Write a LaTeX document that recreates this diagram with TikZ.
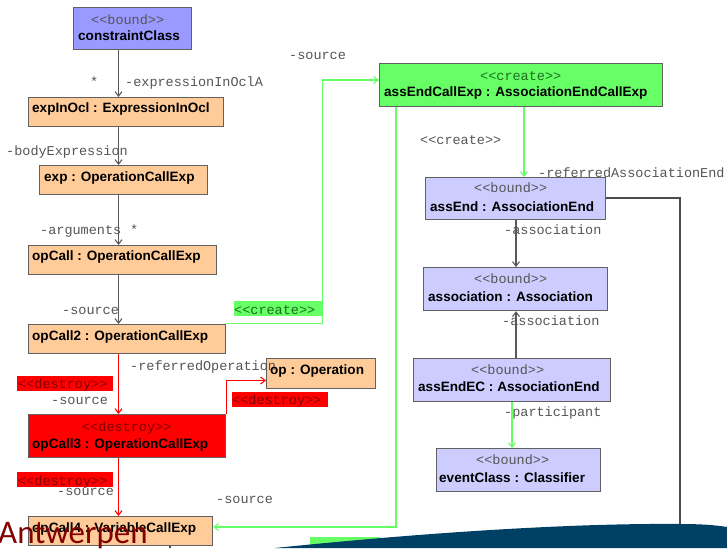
\documentclass[tikz,border=0pt]{standalone}
\usepackage{fontspec}
\setmainfont{Liberation Sans}
\newfontfamily\monof{Liberation Mono}
\newfontfamily\brandf{Carlito}
\usetikzlibrary{arrows.meta}
\definecolor{gline}{RGB}{102,255,102}
\definecolor{orangefill}{RGB}{255,204,153}
\definecolor{bluefill}{RGB}{153,153,255}
\definecolor{lightblue}{RGB}{204,204,255}
\definecolor{greytxt}{RGB}{85,85,85}
\definecolor{swoosh}{RGB}{0,64,100}
\definecolor{brand}{RGB}{130,0,0}
\definecolor{onred}{RGB}{130,0,0}
\definecolor{ongreen}{RGB}{30,110,30}
\tikzset{
  x=1pt,y=-1pt,
  umlbox/.style={draw=black!62,line width=1.2pt,inner sep=0pt,anchor=north west},
  title/.style={anchor=base west,inner sep=0pt,font=\fontsize{13.55}{14}\selectfont\bfseries,text=black},
  mono/.style={anchor=base west,inner sep=0pt,font=\fontsize{13.5}{14}\monof,text=greytxt},
  monored/.style={mono,text=onred},
  monogreen/.style={mono,text=ongreen},
  tag/.style={anchor=north west,inner sep=0pt,draw=none},
  tip/.style={-{Straight Barb[length=4.5pt,width=7pt]}},
  conn/.style={tip,draw=black!65,line width=1.1pt},
  plain/.style={draw=black!70,line width=1.1pt},
  greenconn/.style={tip,draw=gline,line width=1.1pt},
  redconn/.style={tip,draw=red,line width=1.1pt}
}
\begin{document}
\begin{tikzpicture}
\useasboundingbox (0,0) rectangle (727,548);
% guides
\coordinate (gA) at (118.5,0);
\coordinate (gB) at (524,0);
\coordinate (gC) at (516,0);
\coordinate (gD) at (512,0);
\coordinate (gE) at (322.5,0);
\coordinate (gF) at (396,0);
\coordinate (gG) at (680,0);
\coordinate (gH) at (170,0);
\coordinate (hA) at (0,323.5);
\coordinate (hB) at (0,80);
\coordinate (hC) at (0,380.5);
\coordinate (hD) at (0,527);
\coordinate (hE) at (0,198);
\coordinate (swoopEnd) at (680,526);
\coordinate (stub) at (170,548);
% boxes
\node[umlbox,fill=bluefill,minimum width=118pt,minimum height=42pt] (cc) at (73,7) {};
\node[umlbox,fill=orangefill,minimum width=195pt,minimum height=29pt] (eio) at (28,97) {};
\node[umlbox,fill=orangefill,minimum width=168pt,minimum height=29pt] (ex) at (39,165) {};
\node[umlbox,fill=orangefill,minimum width=188pt,minimum height=29pt] (oc1) at (28,245) {};
\node[umlbox,fill=orangefill,minimum width=197pt,minimum height=29pt] (oc2) at (28,324) {};
\node[umlbox,fill=orangefill,minimum width=109pt,minimum height=30pt] (op) at (266,358) {};
\node[umlbox,fill=red,minimum width=197pt,minimum height=43pt] (oc3) at (28,414) {};
\node[umlbox,fill=orangefill,minimum width=184pt,minimum height=29pt] (oc4) at (28,516) {};
\node[umlbox,fill=gline,minimum width=283pt,minimum height=43pt] (aece) at (379,63) {};
\node[umlbox,fill=lightblue,minimum width=180pt,minimum height=42pt] (ae) at (425,177) {};
\node[umlbox,fill=lightblue,minimum width=184pt,minimum height=43pt] (as) at (423,267) {};
\node[umlbox,fill=lightblue,minimum width=197pt,minimum height=43pt] (aeec) at (413,358) {};
\node[umlbox,fill=lightblue,minimum width=164pt,minimum height=43pt] (ec) at (436,448) {};
% tag backgrounds
\node[tag,fill=gline,minimum width=88pt,minimum height=15pt] (tagCreate) at (234,301) {};
\node[tag,fill=red,minimum width=96pt,minimum height=15pt] (tagD1) at (17,376) {};
\node[tag,fill=red,minimum width=96pt,minimum height=15pt] (tagD2) at (232,392) {};
\node[tag,fill=red,minimum width=96pt,minimum height=15pt] (tagD3) at (17,472) {};
\node[tag,fill=gline,minimum width=70pt,minimum height=11pt] (tagBottom) at (310,537) {};
% connectors
\draw[conn] (cc.south -| gA) -- (eio.north -| gA);
\draw[conn] (eio.south -| gA) -- (ex.north -| gA);
\draw[conn] (ex.south -| gA) -- (oc1.north -| gA);
\draw[conn] (oc1.south -| gA) -- (oc2.north -| gA);
\draw[redconn] (oc2.south -| gA) -- (oc3.north -| gA);
\draw[redconn] (oc3.south -| gA) -- (oc4.north -| gA);
\draw[redconn] (oc3.north east) -- (oc3.north east |- hC) -- (op.west |- hC);
\draw[greenconn] (oc2.east |- hA) -- (gE |- hA) -- (gE |- hB) -- (aece.west |- hB);
\draw[greenconn] (aece.south -| gF) -- (gF |- hD) -- (oc4.east |- hD);
\draw[greenconn] (aece.south -| gB) -- (ae.north -| gB);
\draw[conn] (ae.south -| gC) -- (as.north -| gC);
\draw[conn] (aeec.north -| gC) -- (as.south -| gC);
\draw[greenconn] (aeec.south -| gD) -- (ec.north -| gD);
\draw[plain] (ae.east |- hE) -- (gG |- hE) -- (swoopEnd);
\draw[plain] (oc4.south -| gH) -- (stub);
% texts
\node[mono] (t1) at (91,25) {<<bound>>};
\node[title] (t2) at (78,41) {constraintClass};
\node[mono] (t3) at (90,87) {*};
\node[mono] (t4) at (125,87) {-expressionInOclA};
\node[title] (t5) at (32,113) {expInOcl : ExpressionInOcl};
\node[mono] (t6) at (6,156) {-bodyExpression};
\node[title] (t7) at (44,181) {exp : OperationCallExp};
\node[mono] (t8) at (40,234) {-arguments};
\node[mono] (t9) at (130,234) {*};
\node[title] (t10) at (32,260) {opCall : OperationCallExp};
\node[mono] (t11) at (62,314) {-source};
\node[monogreen] (t12) at (234,314) {<<create>>};
\node[title] (t13) at (32,340) {opCall2 : OperationCallExp};
\node[mono] (t14) at (130,370) {-referredOperation};
\node[title] (t15) at (270,374) {op : Operation};
\node[monored] (t16) at (18,388) {<<destroy>>};
\node[mono] (t17) at (51,404) {-source};
\node[monored] (t18) at (232,404) {<<destroy>>};
\node[monored] (t19) at (82,431) {<<destroy>>};
\node[title] (t20) at (32,448) {opCall3 : OperationCallExp};
\node[monored] (t21) at (18,485) {<<destroy>>};
\node[mono] (t22) at (57,495) {-source};
\node[mono] (t23) at (216,503) {-source};
\node[title] (t24) at (32,532) {opCall4 : VariableCallExp};
\node[mono] (t25) at (289,60) {-source};
\node[monogreen] (t26) at (480,81) {<<create>>};
\node[title] (t27) at (384,97) {assEndCallExp : AssociationEndCallExp};
\node[mono] (t28) at (420,145) {<<create>>};
\node[mono] (t29) at (538,178) {-referredAssociationEnd};
\node[mono] (t30) at (474,192) {<<bound>>};
\node[title] (t31) at (430,211) {assEnd : AssociationEnd};
\node[mono] (t32) at (504,234) {-association};
\node[mono] (t33) at (474,283) {<<bound>>};
\node[title] (t34) at (428,301) {association : Association};
\node[mono] (t35) at (502,325) {-association};
\node[mono] (t36) at (471,374) {<<bound>>};
\node[title] (t37) at (418,391) {assEndEC : AssociationEnd};
\node[mono] (t38) at (504,416) {-participant};
\node[mono] (t39) at (476,464) {<<bound>>};
\node[title] (t40) at (439,482) {eventClass : Classifier};
% footer
\fill[swoosh] (275,548) .. controls (420,533) and (570,523) .. (680,524) .. controls (700,524) and (715,525) .. (727,527) -- (727,548) -- cycle;
\node[anchor=base west,inner sep=0pt,font=\fontsize{33}{34}\brandf,text=brand] (brandName) at (-2,543) {Antwerpen};
\end{tikzpicture}
\end{document}
